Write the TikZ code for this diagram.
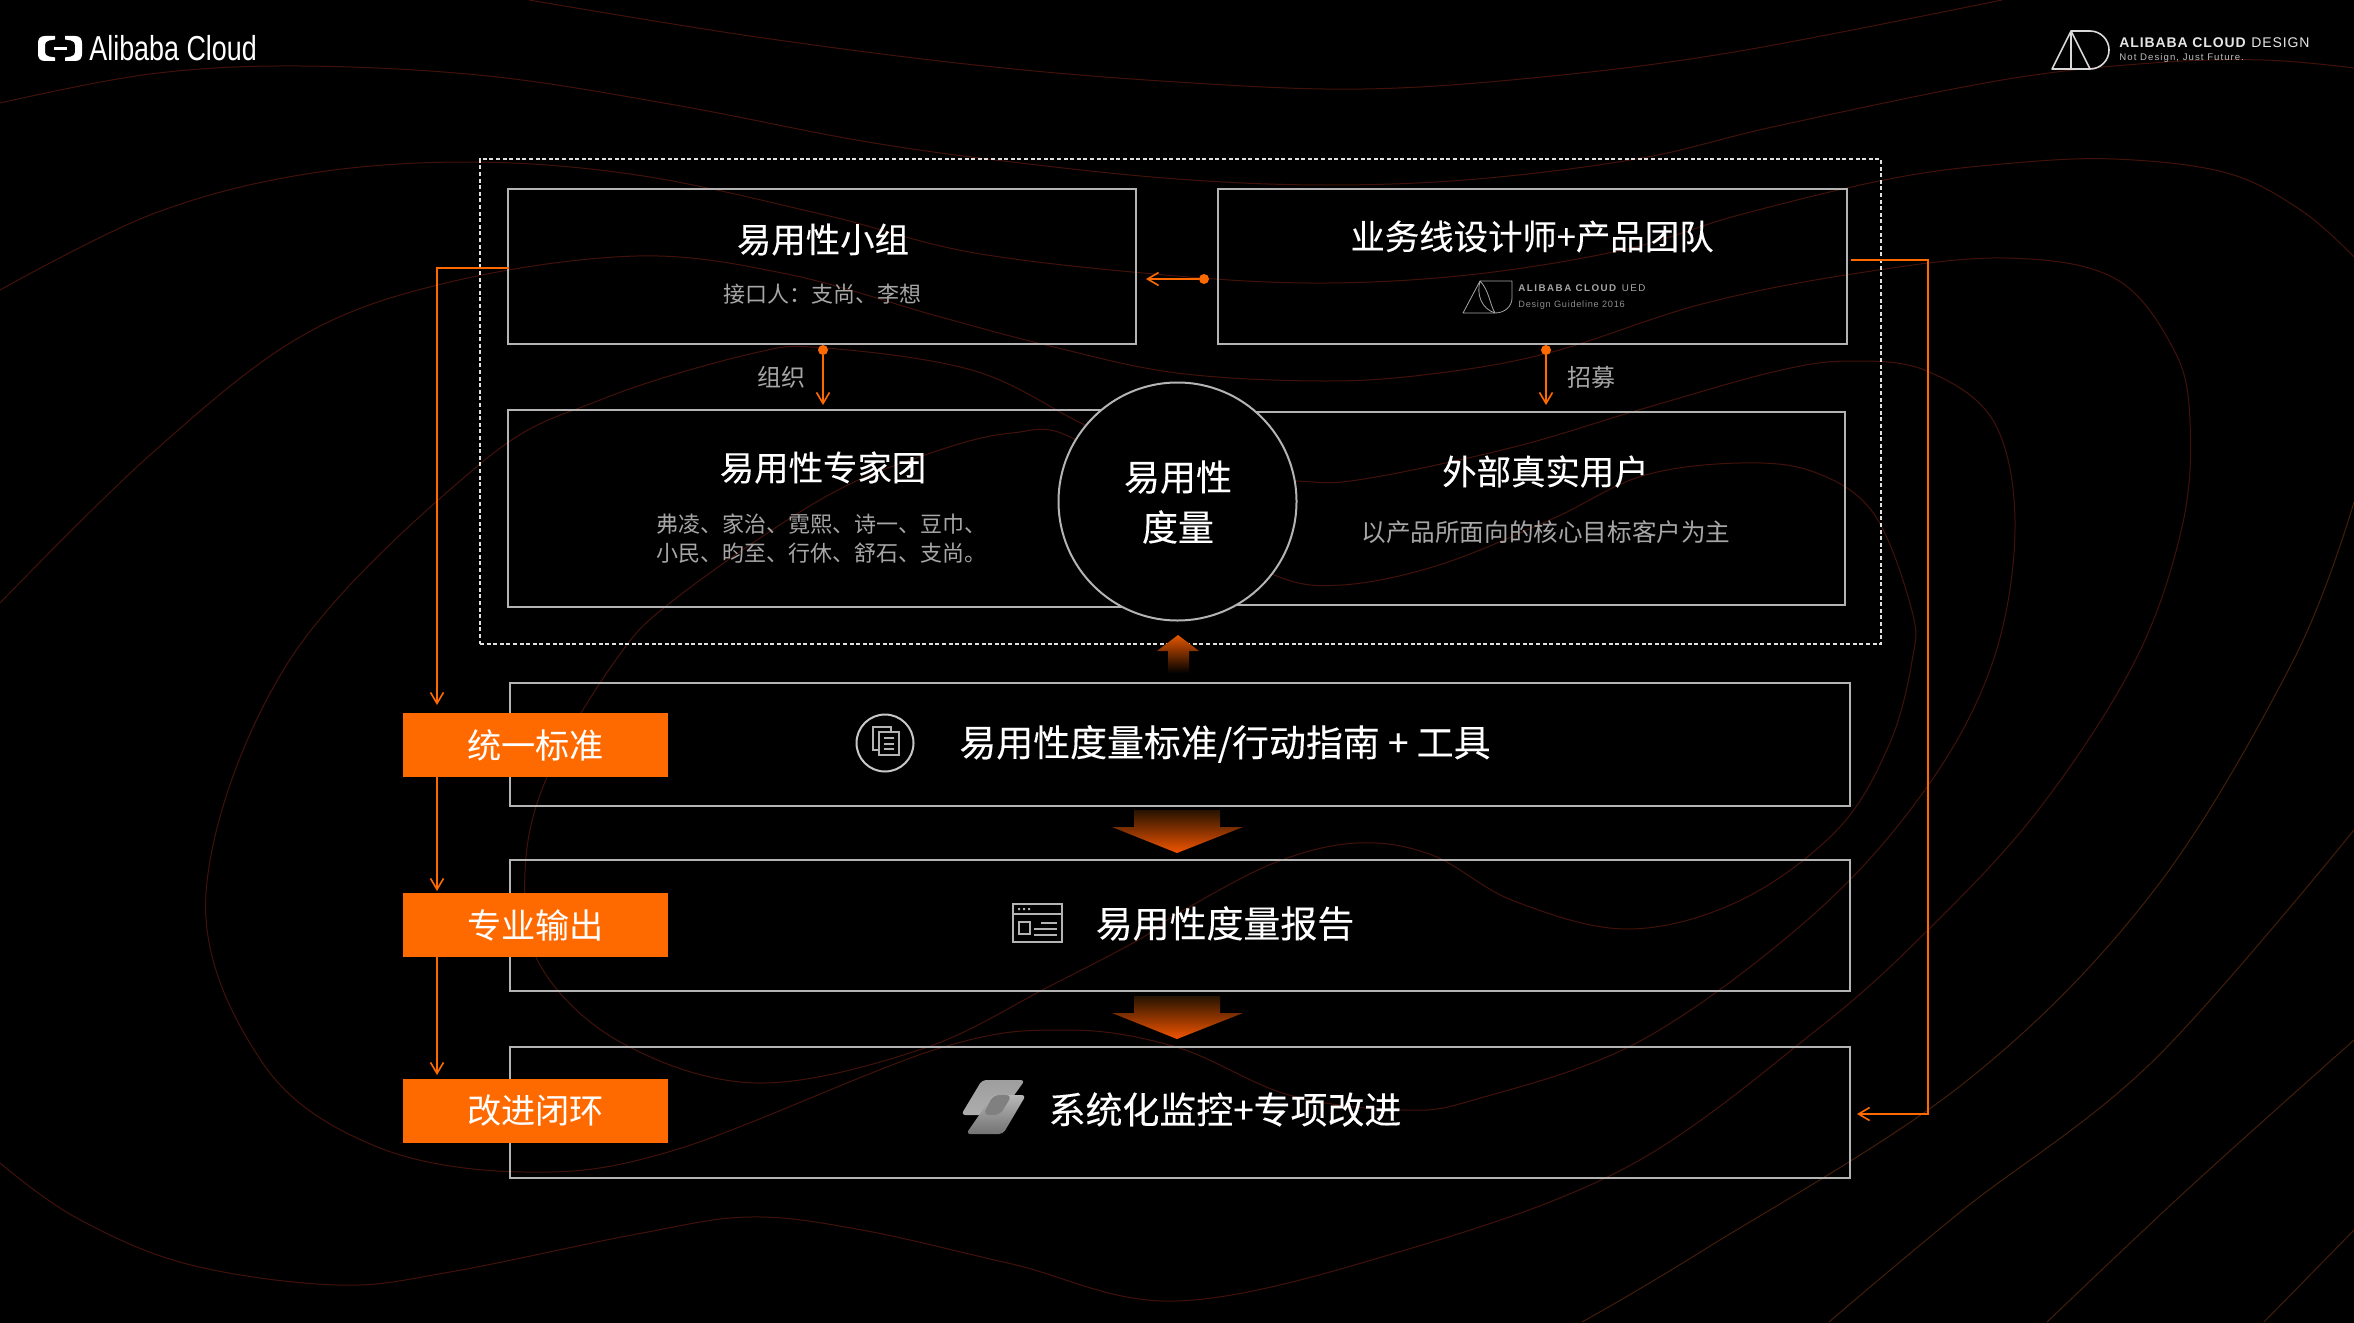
\documentclass[tikz,border=0pt]{standalone}
\usepackage{fontspec}
\usetikzlibrary{arrows.meta,calc,shapes.geometric}
\setmainfont{Liberation Sans}
\newfontfamily\cjk{Noto Sans CJK SC}
\newfontfamily\cjkm[FakeBold=0.2]{Noto Sans CJK SC}
\definecolor{aliorange}{HTML}{FF6A00}
\definecolor{boxgrey}{HTML}{B4B4B4}
\definecolor{subgrey}{HTML}{A6A6A6}
\definecolor{bgred}{HTML}{42120A}
\definecolor{bgbrown}{HTML}{431E0B}
\tikzset{
  bgline/.style={draw=bgbrown,line width=0.5pt},
  bgleft/.style={draw=bgred,line width=0.5pt},
  panel/.style={draw=boxgrey,line width=1pt,rectangle,inner sep=0pt},
  tag/.style={fill=aliorange,rectangle,inner sep=0pt,minimum width=132.5pt,minimum height=32pt,text=white,font=\cjk\fontsize{17.1}{20}\selectfont},
  title/.style={text=white,inner sep=0pt,font=\cjkm\fontsize{17.2}{20}\selectfont},
  bandtext/.style={text=white,inner sep=0pt,font=\cjkm\fontsize{18.45}{22}\selectfont},
  subtext/.style={text=subgrey,inner sep=0pt,font=\cjk\fontsize{11}{15}\selectfont},
  dot/.style={circle,fill=aliorange,inner sep=0pt,minimum size=5pt},
  conn/.style={draw=aliorange,line width=1pt,-{Straight Barb[length=5.5pt,width=6.5pt,line width=0.8pt]}},
  iconline/.style={draw=boxgrey,line width=1pt},
}
\begin{document}
\begin{tikzpicture}[x=0.5pt,y=-0.5pt]
\useasboundingbox (0,0) rectangle (2354,1322);
\fill[black] (-6,-6) rectangle (2360,1328);

% background contours
\begin{scope}
\clip (0,0) rectangle (2354,1322);
\draw[bgleft] plot[smooth,tension=0.6] coordinates {(529,0) (750,36) (975,65) (1177,82) (1364,89) (1552,76) (1740,51) (2002,0)};
\draw[bgleft] plot[smooth,tension=0.6] coordinates {(0,103) (150,74) (300,66) (488,76) (675,105) (862,141) (1012,162) (1177,179) (1327,185) (1477,179) (1642,158) (1777,126) (2002,80) (2152,63) (2264,60) (2354,68)};
\draw[bgleft] plot[smooth,tension=0.6] coordinates {(0,290) (150,215) (300,175) (465,162) (637,175) (825,215) (975,253) (1177,276) (1327,283) (1477,274) (1627,249) (1739,215) (1889,179) (2002,164) (2114,159) (2227,173) (2302,211) (2354,257)};
\draw[bgleft] plot[smooth,tension=0.6] coordinates {(0,603) (150,455) (300,337) (450,282) (637,256) (787,274) (937,316) (1050,346) (1177,373) (1327,381) (1439,373) (1552,352) (1702,304) (1852,274) (2002,258) (2114,278) (2174,350) (2190,422) (2182,527) (2135,661) (2039,809) (1927,931) (1814,1032) (1627,1167) (1402,1251) (1177,1301) (1012,1264) (862,1230) (750,1217) (637,1234) (450,1272) (337,1285) (187,1264) (75,1217) (0,1163)};
\draw[bgleft] plot[smooth cycle,tension=0.6] coordinates {(615,661) (547,777) (525,872) (540,965) (622,1043) (757,1083) (922,1049) (1050,986) (1140,939) (1177,914) (1274,863) (1357,843) (1432,855) (1514,901) (1627,929) (1739,901) (1837,830) (1889,745) (1912,661) (1912,611) (1874,514) (1814,472) (1739,463) (1642,476) (1552,519) (1439,565) (1342,585) (1274,575) (1178,520) (1072,438) (1012,433) (937,451) (825,497) (675,599)};
\draw[bgleft] plot[smooth cycle,tension=0.6] coordinates {(289,661) (206,893) (262,1062) (375,1146) (525,1172) (675,1150) (937,1049) (1065,1030) (1176,1047) (1289,1095) (1402,1110) (1477,1099) (1642,1040) (1814,914) (1927,787) (1993,661) (2015,527) (1994,422) (1927,371) (1852,361) (1777,371) (1642,409) (1514,447) (1364,479) (1297,481) (1190,470) (1087,426) (975,371) (825,348) (750,354) (600,400) (480,464)};
\draw[bgline] plot[smooth,tension=0.6] coordinates {(2354,502) (2293,661) (2152,893) (1964,1083) (1702,1251) (1582,1322)};
\draw[bgline] plot[smooth,tension=0.6] coordinates {(2354,830) (2152,1062) (1964,1209) (1829,1322)};
\draw[bgline] plot[smooth,tension=0.6] coordinates {(2354,1040) (2189,1188) (2047,1322)};
\draw[bgline] plot[smooth,tension=0.6] coordinates {(2354,1230) (2264,1322)};
\end{scope}

% Alibaba Cloud logo
\fill[white] (55,36) -- (45,36) .. controls (40,36) and (38,39) .. (38,43) -- (38,54) .. controls (38,58) and (40,61) .. (45,61) -- (55,61) -- (55,57.5) -- (49,56.5) .. controls (46,56) and (45,54) .. (45,52) -- (45,45) .. controls (45,43) and (46,41) .. (49,40.5) -- (55,39.5) -- cycle;
\fill[white] (65,36) -- (75,36) .. controls (80,36) and (82,39) .. (82,43) -- (82,54) .. controls (82,58) and (80,61) .. (75,61) -- (65,61) -- (65,57.5) -- (71,56.5) .. controls (74,56) and (75,54) .. (75,52) -- (75,45) .. controls (75,43) and (74,41) .. (71,40.5) -- (65,39.5) -- cycle;
\fill[white] (54,47.5) rectangle (67,49.8);
\node[anchor=west,inner sep=0pt,text=white] (alitext) at (89,48) {\scalebox{0.815}[1.05]{\fontsize{16.5}{18}\selectfont Alibaba Cloud}};

% Alibaba Cloud Design logo
\draw[draw=white!85!black,line width=0.8pt,line join=round] (2071,31) -- (2052,69) -- (2090,69) .. controls (2100.5,69) and (2109,60.5) .. (2109,50) .. controls (2109,39.5) and (2100.5,31) .. (2090,31) -- (2071,31) -- (2090,69) (2071,31) -- (2071,69);
\node[anchor=west,inner sep=0pt,text=white!90!black] (adname) at (2119,42.5) {\addfontfeature{LetterSpace=6.3}\fontsize{7}{8}\selectfont\textbf{ALIBABA CLOUD} DESIGN};
\node[anchor=west,inner sep=0pt,text=white!75!black] (adtag) at (2119,58.5) {\addfontfeature{LetterSpace=11}\fontsize{4.8}{6}\selectfont Not Design, Just Future.};

% dashed frame
\node[draw=white!88!black,line width=0.8pt,dash pattern=on 2pt off 1.3pt,rectangle,inner sep=0pt,minimum width=700.5pt,minimum height=242.5pt] (frame) at (1180.5,401.5) {};

% panels
\node[panel,minimum width=314pt,minimum height=77.5pt] (groupbox) at (822,266.5) {};
\node[panel,minimum width=314.5pt,minimum height=77.5pt] (teambox) at (1532,266.5) {};
\node[panel,minimum width=335pt,minimum height=98.5pt] (expertbox) at (843,508.5) {};
\node[panel,minimum width=333.5pt,minimum height=96.5pt] (userbox) at (1511.5,508.5) {};
\node[panel,minimum width=670pt,minimum height=61.5pt] (band1) at (1180,744.5) {};
\node[panel,minimum width=670pt,minimum height=65.5pt] (band2) at (1180,925) {};
\node[panel,minimum width=670pt,minimum height=65.5pt] (band3) at (1180,1112.5) {};
\node[circle,draw=boxgrey,line width=1pt,fill=black,inner sep=0pt,minimum size=119pt] (hub) at (1177.5,501.5) {};

% panel texts
\node[title] (t1) at (823,239.5) {易用性小组};
\node[subtext] (s1) at (822,294.5) {接口人：支尚、李想};
\node[title] (t2) at (1532,236.5) {业务线设计师+产品团队};
\node[title] (t3) at (823,467.5) {易用性专家团};
\node[subtext,font=\cjk\fontsize{11}{14.75}\selectfont,align=left] (s3) at (821,538.5) {弗凌、家治、霓熙、诗一、豆巾、\\小民、昀至、行休、舒石、支尚。};
\node[title] (t4) at (1545.5,471.5) {外部真实用户};
\node[subtext,font=\cjk\fontsize{12.3}{15}\selectfont] (s4) at (1546,532) {以产品所面向的核心目标客户为主};
\node[bandtext,font=\cjkm\fontsize{18}{22}\selectfont] (h1) at (1178,477) {易用性};
\node[bandtext,font=\cjkm\fontsize{18}{22}\selectfont] (h2) at (1178,527) {度量};
\node[bandtext] (b1) at (1225,744) {易用性度量标准/行动指南 + 工具};
\node[bandtext] (b2) at (1225,923.5) {易用性度量报告};
\node[bandtext] (b3) at (1225,1109.5) {系统化监控+专项改进};

% UED mini logo
\draw[draw=subgrey,line width=0.4pt,line join=round] (1480,281) -- (1463,313) -- (1495,313) .. controls (1505,313) and (1512,306) .. (1512,298) -- (1512,281) -- cycle;
\draw[draw=subgrey,line width=0.4pt] (1480,281) .. controls (1476,295) and (1482,309) .. (1495,313) (1480,281) .. controls (1489,290) and (1490,305) .. (1495,313);
\node[anchor=west,inner sep=0pt,text=subgrey] (uedname) at (1518,288) {\addfontfeature{LetterSpace=15}\fontsize{4.9}{6}\selectfont\textbf{ALIBABA CLOUD} UED};
\node[anchor=west,inner sep=0pt,text=subgrey!85!black] (uedtag) at (1518,305) {\addfontfeature{LetterSpace=8}\fontsize{4.6}{6}\selectfont Design Guideline 2016};

% tags
\node[tag] (tag1) at (535.5,745) {统一标准};
\node[tag] (tag2) at (535.5,925) {专业输出};
\node[tag] (tag3) at (535.5,1111) {改进闭环};

% connectors
\node[dot] (d1) at (1204,279) {};
\coordinate (e1) at (1146,279);
\draw[conn] (d1) -- (e1);
\node[dot] (d2) at (823,350) {};
\coordinate (e2) at (823,405);
\draw[conn] (d2) -- (e2);
\node[dot] (d3) at (1546,350) {};
\coordinate (e3) at (1546,405);
\draw[conn] (d3) -- (e3);
\node[subtext,font=\cjk\fontsize{12}{14}\selectfont] (l1) at (781,377) {组织};
\node[subtext,font=\cjk\fontsize{12}{14}\selectfont] (l2) at (1591,377) {招募};
\coordinate (a1) at (437,705);
\coordinate (a2) at (437,891);
\coordinate (a3) at (437,1075);
\draw[conn] (groupbox.west |- 0,268) -- ++(2,0) -| (a1);
\draw[conn] (a1 |- tag1.south) -- (a2);
\draw[conn] (a2 |- tag2.south) -- (a3);
\coordinate (r0) at (1851,260);
\coordinate (r1) at (1857,1114);
\draw[conn] (r0) -| (1928,1114) -- (r1);

% block arrows
\shade[top color=orange!75!red!90!black,bottom color=black] (1178,635) -- (1199,651) -- (1189,651) -- (1189,673) -- (1168,673) -- (1168,651) -- (1157,651) -- cycle;
\shade[top color=black!85!orange,bottom color=orange!70!red!95!black] (1134,810) -- (1220,810) -- (1220,827) -- (1243,827) -- (1177,853) -- (1112,827) -- (1134,827) -- cycle;
\shade[top color=black!85!orange,bottom color=orange!70!red!95!black] (1134,996) -- (1220,996) -- (1220,1013) -- (1243,1013) -- (1177,1039) -- (1112,1013) -- (1134,1013) -- cycle;

% doc icon
\node[circle,draw=white!78!black,line width=1pt,inner sep=0pt,minimum size=28.5pt] (docicon) at (885,743) {};
\draw[iconline] (879,750) -- (873,750) -- (873,727) -- (891,727) -- (891,732);
\draw[iconline] (879,732) rectangle (899,755);
\draw[draw=boxgrey,line width=0.8pt] (884,738) -- (894,738) (884,744) -- (894,744) (884,749) -- (894,749);

% report icon
\draw[iconline] (1013,904) rectangle (1062,942);
\draw[draw=boxgrey,line width=0.8pt] (1013,914) -- (1062,914);
\draw[draw=boxgrey,line width=0.8pt] (1019,922) rectangle (1030,934);
\draw[draw=boxgrey,line width=0.8pt] (1041,923) -- (1057,923) (1034,929) -- (1057,929) (1034,935) -- (1057,935);
\fill[boxgrey] (1018,908) rectangle (1020,910) (1023,908) rectangle (1025,910) (1028,908) rectangle (1030,910);

% stream icon
\shade[top color=white!62!black,bottom color=white!68!black,rounded corners=2pt] (982,1080) -- (1025,1080) -- (1000,1115) -- (961,1115) -- cycle;
\shade[top color=white!72!black,bottom color=white!45!black,rounded corners=2pt] (993,1095) -- (1026,1095) -- (1003,1134) -- (966,1134) -- cycle;
\fill[white!50!black,rounded corners=3pt] (993,1095) -- (1012,1095) -- (1000,1115) -- (983,1115) -- cycle;
\end{tikzpicture}
\end{document}
